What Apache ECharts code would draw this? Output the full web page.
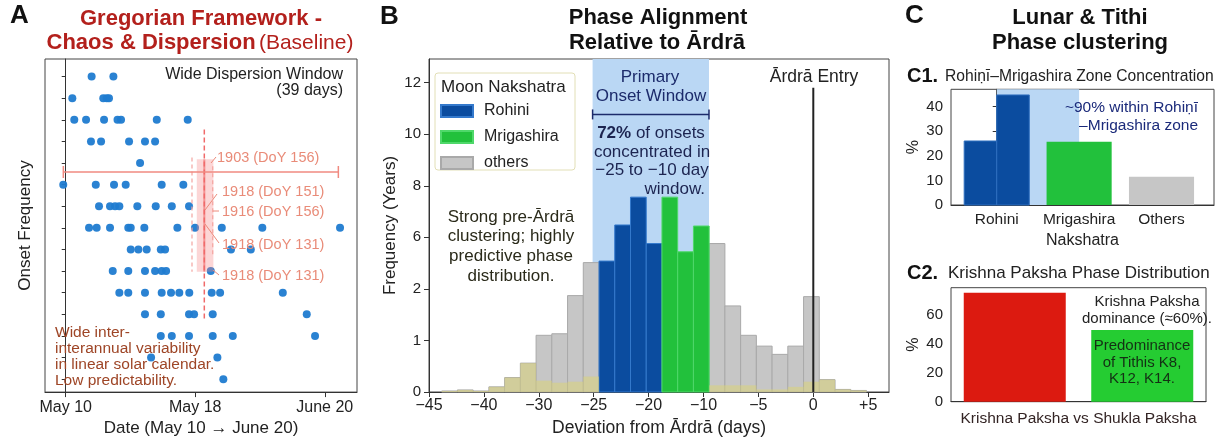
<!DOCTYPE html>
<html>
<head>
<meta charset="utf-8">
<script src="https://cdn.jsdelivr.net/npm/echarts@6/dist/echarts.min.js"></script>
<style>html,body{margin:0;padding:0;background:#fff}#c{width:1222px;height:442px}</style>
</head>
<body>
<div id="c"></div>
<script>
// ================= DATA =================
// Panel A: onset dates per row (axis positions: 0 = May 10, 1 = May 18, 2 = June 20)
const aXTickLabels = ['May 10', 'May 18', 'June 20'];
const aRows = [
  [0.20, 0.368],
  [0.051, 0.29, 0.317, 0.334],
  [0.066, 0.157, 0.296, 0.40, 0.427, 0.703, 0.942],
  [0.195, 0.273, 0.489, 0.612, 0.69],
  [0.574],
  [-0.019, 0.232, 0.373, 0.463, 0.741, 0.908],
  [0.257, 0.342, 0.381, 0.414, 0.553, 0.695, 0.819, 0.952],
  [0.18, 0.239, 0.342, 0.483, 0.502, 0.607, 0.862, 0.998, 1.205, 1.518, 2.118],
  [0.502, 0.561, 0.625, 0.734, 0.767, 1.276, 1.429],
  [0.363, 0.483, 0.612, 0.69, 0.741, 0.775, 1.12],
  [0.414, 0.483, 0.612, 0.741, 0.813, 0.877, 0.954, 1.127, 1.192, 1.676],
  [0.612, 0.734, 0.952, 0.991, 1.135, 1.861],
  [0.734, 0.819, 0.952, 1.135, 1.29, 1.925],
  [0.659, 1.171],
  [1.217]
];
const aSpan = [-0.0185, 2.105];      // dispersion window (x)
const aSpanRow = 5.416;
const aCenterX = 1.07;               // dashed centre line
const aCenterRows = [3.45, 12.26];
const aBand = [1.012, 1.14];         // shaded band
const aBandRows = [4.83, 10.03];
const aBracketL = [0.975, 4.74, 10.03];
const aBracketR = [1.135, 5.15, 9.29];
const aLabels = ['1903 (DoY 156)', '1918 (DoY 151)', '1916 (DoY 156)', '1918 (DoY 131)', '1918 (DoY 131)'];

// Panel B: histogram (axis positions; tick labels as printed)
const bXTickLabels = ['\u221245', '\u221240', '\u221230', '\u221225', '\u221220', '\u221210', '\u22125', '0', '+5'];
const bYTickLabels = ['0', '1', '2', '6', '8', '10', '12'];
const bBinStart = 0.231;
const bBinWidth = 0.2866;
const bOthers =     [0.02, 0.04, 0.02, 0.1, 0.28, 0.56, 1.1, 1.13, 1.87, 2.51, null, null, null, null, null, null, null, 2.88, 1.67, 1.10, 0.89, 0.73, 0.89, 1.85, 0.24, 0.05, 0.03];
const bRohini =     [null, null, null, null, null, null, null, null, null, null, 2.54, 3.24, 3.78, 2.88, null, null, null, null, null, null, null, null, null, null, null, null, null];
const bMrigashira = [null, null, null, null, null, null, null, null, null, null, null, null, null, null, 3.78, 2.72, 3.22, null, null, null, null, null, null, null, null, null, null];
const bTint =       [0.02, 0.04, 0.02, 0.1, 0.28, 0.56, 0.22, 0.18, 0.2, 0.3, null, null, null, null, null, null, null, 0.13, 0.13, 0.13, 0.05, 0.05, 0.1, 0.2, 0.24, 0.05, 0.03];
const bWindow = [2.98, 5.10];
const bBracketY = 5.385;
const bArdraX = 7;
const bArdraTop = 5.9;

// Panel C1
const c1Categories = ['Rohini', 'Mrigashira', 'Others'];
const c1Rohini = [26.0, 44.7];
const c1Mrigashira = [25.7];
const c1Others = [11.5];
const c1Zone = [0, 1];

// Panel C2
const c2Categories = ['Krishna Paksha', 'Shukla Paksha'];
const c2Values = [74.9, 49.3];

// ================= RENDER =================
const FF = '"Liberation Sans", Arial, Helvetica, sans-serif';
const fnt = (s, w) => (w || 'normal') + ' ' + s + 'px ' + FF;
const BLUE = '#0b4c9f', GREEN = '#22c13c', GRAY = '#c6c6c6', SHADE = '#bad7f4';

function tx(x, y, text, size, color, align, weight) {
  return {type: 'text', z: 100, style: {x: x, y: y, text: text, font: fnt(size, weight), fill: color || '#222',
    textAlign: align || 'left', textVerticalAlign: 'middle'}};
}
function rtx(x, y, text, rich, align) {
  return {type: 'text', z: 100, style: {x: x, y: y, text: text, rich: rich, textAlign: align || 'left', textVerticalAlign: 'middle'}};
}
function rectRender(params, api) {
  const p0 = api.coord([api.value(0), api.value(2)]);
  const p1 = api.coord([api.value(1), api.value(3)]);
  return {type: 'rect', shape: {x: Math.min(p0[0], p1[0]), y: Math.min(p0[1], p1[1]),
    width: Math.abs(p1[0] - p0[0]), height: Math.abs(p1[1] - p0[1])}, style: api.style()};
}
function lineRender(style) {
  return function (params, api) {
    const p0 = api.coord([api.value(0), api.value(1)]);
    const p1 = api.coord([api.value(2), api.value(3)]);
    return {type: 'line', shape: {x1: p0[0], y1: p0[1], x2: p1[0], y2: p1[1]}, style: style};
  };
}
function capLineRender(style, cap) {
  return function (params, api) {
    const p0 = api.coord([api.value(0), api.value(2)]);
    const p1 = api.coord([api.value(1), api.value(2)]);
    return {type: 'group', children: [
      {type: 'line', shape: {x1: p0[0], y1: p0[1], x2: p1[0], y2: p1[1]}, style: style},
      {type: 'line', shape: {x1: p0[0], y1: p0[1] - cap, x2: p0[0], y2: p0[1] + cap}, style: style},
      {type: 'line', shape: {x1: p1[0], y1: p1[1] - cap, x2: p1[0], y2: p1[1] + cap}, style: style}
    ]};
  };
}
function binRects(vals) {
  const out = [];
  vals.forEach((v, i) => { if (v != null) out.push([bBinStart + i * bBinWidth, bBinStart + (i + 1) * bBinWidth, 0, v]); });
  return out;
}
function groupRects(cat, vals) {
  const span = 0.79, w = span / vals.length;
  return vals.map((v, i) => [cat - span / 2 + i * w, cat - span / 2 + (i + 1) * w, 0, v]);
}
const aPoints = [];
aRows.forEach((xs, i) => xs.forEach(x => aPoints.push([x, i + 1])));

const axisCol = '#333';
const tickFont = {fontFamily: FF, color: '#222'};

const option = {
  animation: false,
  backgroundColor: '#fff',
  grid: [
    {left: 45, top: 59, width: 312, height: 335, show: true, borderColor: '#444', borderWidth: 1},
    {left: 429, top: 59, width: 460, height: 335.5, show: true, borderColor: '#444', borderWidth: 1},
    {left: 951, top: 89.3, width: 263, height: 115.7, show: true, borderColor: '#444', borderWidth: 1},
    {left: 951, top: 287.7, width: 255, height: 114, show: true, borderColor: '#444', borderWidth: 1}
  ],
  xAxis: [
    {type: 'value', gridIndex: 0, min: -0.16, max: 2.249, splitLine: {show: false},
      axisLine: {lineStyle: {color: axisCol}},
      axisTick: {customValues: [0, 1, 2], length: 5, lineStyle: {color: axisCol}},
      axisLabel: {customValues: [0, 1, 2], formatter: v => aXTickLabels[Math.round(v)], fontSize: 16, margin: 7, ...tickFont},
      name: 'Date (May 10 \u2192 June 20)', nameLocation: 'middle', nameGap: 27,
      nameTextStyle: {fontSize: 17, color: '#222', fontFamily: FF}},
    {type: 'value', gridIndex: 1, min: 0, max: 8.379, interval: 1, splitLine: {show: false},
      axisLine: {lineStyle: {color: axisCol}},
      axisTick: {length: 5, lineStyle: {color: axisCol}},
      axisLabel: {formatter: v => bXTickLabels[Math.round(v)] || '', showMaxLabel: false, fontSize: 16, margin: 6, ...tickFont},
      name: 'Deviation from \u0100rdr\u0101 (days)', nameLocation: 'middle', nameGap: 27,
      nameTextStyle: {fontSize: 17.5, color: '#222', fontFamily: FF}},
    {type: 'value', gridIndex: 2, min: -0.555, max: 2.637, splitLine: {show: false},
      axisLine: {lineStyle: {color: axisCol}},
      axisTick: {show: false},
      axisLabel: {customValues: [0, 1, 2], formatter: v => c1Categories[Math.round(v)], fontSize: 15.5, margin: 7, ...tickFont},
      name: 'Nakshatra', nameLocation: 'middle', nameGap: 28,
      nameTextStyle: {fontSize: 16, color: '#222', fontFamily: FF}},
    {type: 'category', gridIndex: 3, data: c2Categories,
      axisLine: {lineStyle: {color: axisCol}},
      axisTick: {alignWithLabel: true, length: 4, lineStyle: {color: axisCol}},
      axisLabel: {show: false},
      name: 'Krishna Paksha vs Shukla Paksha', nameLocation: 'middle', nameGap: 9,
      nameTextStyle: {fontSize: 15.5, color: '#332424', fontFamily: FF}}
  ],
  yAxis: [
    {type: 'value', gridIndex: 0, inverse: true, min: 0.186, max: 15.6, splitLine: {show: false},
      axisLine: {lineStyle: {color: axisCol}},
      axisTick: {customValues: [1, 2, 3, 4, 5, 6, 7, 8, 9, 10, 11, 12, 13, 14, 15], length: 4, lineStyle: {color: axisCol}},
      axisLabel: {show: false},
      name: 'Onset Frequency', nameLocation: 'middle', nameGap: 11,
      nameTextStyle: {fontSize: 17, color: '#222', fontFamily: FF}},
    {type: 'value', gridIndex: 1, min: 0, max: 6.46, interval: 1, splitLine: {show: false},
      axisLine: {lineStyle: {color: axisCol}},
      axisTick: {length: 5, lineStyle: {color: axisCol}},
      axisLabel: {formatter: v => bYTickLabels[Math.round(v)] || '', showMaxLabel: false, fontSize: 15, margin: 8, ...tickFont},
      name: 'Frequency (Years)', nameLocation: 'middle', nameGap: 30,
      nameTextStyle: {fontSize: 17, color: '#222', fontFamily: FF}},
    {type: 'value', gridIndex: 2, min: 0, max: 47, interval: 10, splitLine: {show: false},
      axisLine: {lineStyle: {color: axisCol}},
      axisTick: {length: 4, lineStyle: {color: axisCol}},
      axisLabel: {showMaxLabel: false, fontSize: 15, margin: 8, ...tickFont},
      name: '%', nameLocation: 'middle', nameGap: 29,
      nameTextStyle: {fontSize: 16, color: '#222', fontFamily: FF}},
    {type: 'value', gridIndex: 3, min: 0, max: 78.35, interval: 20, splitLine: {show: false},
      axisLine: {lineStyle: {color: axisCol}},
      axisTick: {length: 4, lineStyle: {color: axisCol}},
      axisLabel: {showMaxLabel: false, fontSize: 15, margin: 8, ...tickFont},
      name: '%', nameLocation: 'middle', nameGap: 29,
      nameTextStyle: {fontSize: 16, color: '#222', fontFamily: FF}}
  ],
  legend: {
    left: 440, top: 103, orient: 'vertical', itemWidth: 32, itemHeight: 12, itemGap: 10, icon: 'rect',
    padding: 0, z: 20, selectedMode: false, data: ['Rohini', 'Mrigashira', 'others'],
    textStyle: {fontSize: 16, color: '#222', fontFamily: FF, padding: [0, 0, 0, 6], lineHeight: 12}
  },
  series: [
    // ---- Panel A ----
    {type: 'scatter', xAxisIndex: 0, yAxisIndex: 0, data: aPoints, symbolSize: 8, z: 2,
      itemStyle: {color: '#1f7bd0', opacity: 0.95}},
    {type: 'custom', xAxisIndex: 0, yAxisIndex: 0, z: 3, renderItem: rectRender, encode: {x: [0, 1], y: [2, 3]},
      itemStyle: {color: 'rgba(246,130,130,0.33)'}, data: [[aBand[0], aBand[1], aBandRows[0], aBandRows[1]]]},
    {type: 'custom', xAxisIndex: 0, yAxisIndex: 0, z: 4, encode: {x: [0, 2], y: [1, 3]},
      renderItem: lineRender({stroke: 'rgba(238,90,90,0.55)', lineWidth: 2}),
      data: [[aCenterX, aBandRows[0], aCenterX, aBandRows[1]]]},
    {type: 'custom', xAxisIndex: 0, yAxisIndex: 0, z: 4, encode: {x: [0, 2], y: [1, 3]},
      renderItem: lineRender({stroke: '#f06a6a', lineWidth: 1.5, lineDash: [5, 3]}),
      data: [[aCenterX, aCenterRows[0], aCenterX, aCenterRows[1]]]},
    {type: 'custom', xAxisIndex: 0, yAxisIndex: 0, z: 4, encode: {x: [0, 2], y: [1, 3]},
      renderItem: lineRender({stroke: '#f4a4a0', lineWidth: 1.2, lineDash: [4, 3]}),
      data: [[aBracketL[0], aBracketL[1], aBracketL[0], aBracketL[2]], [aBracketR[0], aBracketR[1], aBracketR[0], aBracketR[2]]]},
    {type: 'custom', xAxisIndex: 0, yAxisIndex: 0, z: 4, encode: {x: [0, 1], y: 2},
      renderItem: capLineRender({stroke: '#f08a80', lineWidth: 1.5}, 6),
      data: [[aSpan[0], aSpan[1], aSpanRow]]},
    // ---- Panel B ----
    {type: 'custom', xAxisIndex: 1, yAxisIndex: 1, z: 1, renderItem: rectRender, encode: {x: [0, 1], y: [2, 3]},
      itemStyle: {color: SHADE}, data: [[bWindow[0], bWindow[1], 0, 6.46]]},
    {name: 'others', type: 'custom', xAxisIndex: 1, yAxisIndex: 1, z: 2, renderItem: rectRender, encode: {x: [0, 1], y: [2, 3]},
      itemStyle: {color: GRAY, borderColor: '#a9a9a9', borderWidth: 1}, data: binRects(bOthers)},
    {name: 'Rohini', type: 'custom', xAxisIndex: 1, yAxisIndex: 1, z: 2, renderItem: rectRender, encode: {x: [0, 1], y: [2, 3]},
      itemStyle: {color: BLUE, borderColor: '#3479cc', borderWidth: 1}, data: binRects(bRohini)},
    {name: 'Mrigashira', type: 'custom', xAxisIndex: 1, yAxisIndex: 1, z: 2, renderItem: rectRender, encode: {x: [0, 1], y: [2, 3]},
      itemStyle: {color: GREEN, borderColor: '#4fd86a', borderWidth: 1}, data: binRects(bMrigashira)},
    {type: 'custom', xAxisIndex: 1, yAxisIndex: 1, z: 3, renderItem: rectRender, encode: {x: [0, 1], y: [2, 3]},
      itemStyle: {color: 'rgba(218,212,120,0.55)'}, data: binRects(bTint)},
    {type: 'custom', xAxisIndex: 1, yAxisIndex: 1, z: 4, encode: {x: [0, 1], y: 2},
      renderItem: capLineRender({stroke: '#1c2b6b', lineWidth: 1.5}, 5),
      data: [[bWindow[0], bWindow[1], bBracketY]]},
    {type: 'custom', xAxisIndex: 1, yAxisIndex: 1, z: 5, encode: {x: [0, 2], y: [1, 3]},
      renderItem: lineRender({stroke: '#222', lineWidth: 2}),
      data: [[bArdraX, 0, bArdraX, bArdraTop]]},
    // ---- Panel C1 ----
    {type: 'custom', xAxisIndex: 2, yAxisIndex: 2, z: 1, renderItem: rectRender, encode: {x: [0, 1], y: [2, 3]},
      itemStyle: {color: SHADE}, data: [[c1Zone[0], c1Zone[1], 0, 47]]},
    {type: 'custom', xAxisIndex: 2, yAxisIndex: 2, z: 2, renderItem: rectRender, encode: {x: [0, 1], y: [2, 3]},
      itemStyle: {color: BLUE, borderColor: '#2f6fc0', borderWidth: 1}, data: groupRects(0, c1Rohini)},
    {type: 'custom', xAxisIndex: 2, yAxisIndex: 2, z: 2, renderItem: rectRender, encode: {x: [0, 1], y: [2, 3]},
      itemStyle: {color: GREEN}, data: groupRects(1, c1Mrigashira)},
    {type: 'custom', xAxisIndex: 2, yAxisIndex: 2, z: 2, renderItem: rectRender, encode: {x: [0, 1], y: [2, 3]},
      itemStyle: {color: GRAY}, data: groupRects(2, c1Others)},
    // ---- Panel C2 ----
    {type: 'bar', xAxisIndex: 3, yAxisIndex: 3, barWidth: 102, z: 2,
      data: [{value: c2Values[0], itemStyle: {color: '#dc1a10'}}, {value: c2Values[1], itemStyle: {color: '#25cc32'}}]}
  ],
  graphic: {elements: [
    // panel letters & titles
    tx(10, 16, 'A', 26, '#111', 'left', 'bold'),
    tx(201, 19, 'Gregorian Framework -', 22, '#b3201c', 'center', 'bold'),
    rtx(200, 43, '{b|Chaos & Dispersion} {n|(Baseline)}', {
      b: {fontSize: 22, fontWeight: 'bold', fontFamily: FF, fill: '#b3201c'},
      n: {fontSize: 21, fontFamily: FF, fill: '#b3201c'}}, 'center'),
    tx(380, 17, 'B', 26, '#111', 'left', 'bold'),
    tx(658, 18, 'Phase Alignment', 22, '#111', 'center', 'bold'),
    tx(657, 43, 'Relative to \u0100rdr\u0101', 22, '#111', 'center', 'bold'),
    tx(905, 16, 'C', 26, '#111', 'left', 'bold'),
    tx(1080, 18, 'Lunar & Tithi', 22, '#111', 'center', 'bold'),
    tx(1080, 43, 'Phase clustering', 22, '#111', 'center', 'bold'),
    // panel A annotations
    tx(343, 75, 'Wide Dispersion Window', 16, '#222', 'right'),
    tx(343, 91, '(39 days)', 16, '#222', 'right'),
    tx(217, 158, aLabels[0], 14.5, '#e98b78'),
    tx(222, 192, aLabels[1], 14.5, '#e98b78'),
    tx(222, 212, aLabels[2], 14.5, '#e98b78'),
    tx(222, 245, aLabels[3], 14.5, '#e98b78'),
    tx(222, 276, aLabels[4], 14.5, '#e98b78'),
    {type: 'line', z: 100, shape: {x1: 211, y1: 163, x2: 216, y2: 157}, style: {stroke: '#ec8a7a', lineWidth: 1}},
    {type: 'line', z: 100, shape: {x1: 205, y1: 210, x2: 217, y2: 194}, style: {stroke: '#ec8a7a', lineWidth: 1}},
    {type: 'line', z: 100, shape: {x1: 213, y1: 211, x2: 219, y2: 211}, style: {stroke: '#ec8a7a', lineWidth: 1}},
    {type: 'line', z: 100, shape: {x1: 205, y1: 224, x2: 219, y2: 243}, style: {stroke: '#ec8a7a', lineWidth: 1}},
    {type: 'line', z: 100, shape: {x1: 213, y1: 270, x2: 219, y2: 275}, style: {stroke: '#ec8a7a', lineWidth: 1}},
    tx(55, 333, 'Wide inter-', 15.5, '#9e4526'),
    tx(55, 349, 'interannual variability', 15.5, '#9e4526'),
    tx(55, 365, 'in linear solar calendar.', 15.5, '#9e4526'),
    tx(55, 381, 'Low predictability.', 15.5, '#9e4526'),
    // panel B annotations
    {type: 'rect', z: 15, shape: {x: 435, y: 73, width: 140, height: 97, r: 3},
      style: {fill: 'rgba(255,255,255,0.92)', stroke: '#e2dfb6', lineWidth: 1}},
    tx(441, 87, 'Moon Nakshatra', 17, '#222'),
    tx(650, 77, 'Primary', 17, '#1c2b6b', 'center'),
    tx(651, 96, 'Onset Window', 17, '#1c2b6b', 'center'),
    rtx(651, 133, '{b|72%}{n| of onsets}', {
      b: {fontSize: 17, fontWeight: 'bold', fontFamily: FF, fill: '#1c2450'},
      n: {fontSize: 17, fontFamily: FF, fill: '#1c2450'}}, 'center'),
    tx(652, 152, 'concentrated in', 17, '#1c2450', 'center'),
    tx(652, 170, '\u221225 to \u221210 day', 17, '#1c2450', 'center'),
    tx(705, 189, 'window.', 17, '#1c2450', 'right'),
    tx(511, 217, 'Strong pre-\u0100rdr\u0101', 17, '#2a2a1a', 'center'),
    tx(511, 236, 'clustering; highly', 17, '#2a2a1a', 'center'),
    tx(511, 256, 'predictive phase', 17, '#2a2a1a', 'center'),
    tx(511, 276, 'distribution.', 17, '#2a2a1a', 'center'),
    tx(814, 77, '\u0100rdr\u0101 Entry', 17.5, '#222', 'center'),
    // panel C annotations
    tx(907, 76, 'C1.', 20, '#111', 'left', 'bold'),
    {type: 'text', z: 100, x: 945, y: 76, scaleX: 0.92,
      style: {x: 0, y: 0, text: 'Rohi\u1e47\u012b\u2013Mrigashira Zone Concentration', font: fnt(17), fill: '#222',
        textAlign: 'left', textVerticalAlign: 'middle'}},
    tx(1198, 108, '~90% within Rohi\u1e47\u012b', 15.5, '#1b2a7a', 'right'),
    tx(1198, 126, '\u2013Mrigashira zone', 15.5, '#1b2a7a', 'right'),
    tx(907, 273, 'C2.', 20, '#111', 'left', 'bold'),
    tx(948, 273, 'Krishna Paksha Phase Distribution', 17, '#222'),
    tx(1147, 302, 'Krishna Paksha', 15, '#222', 'center'),
    tx(1147, 319, 'dominance (\u224860%).', 15, '#222', 'center'),
    tx(1142, 346, 'Predominance', 15, '#143014', 'center'),
    tx(1142, 363, 'of Tithis K8,', 15, '#143014', 'center'),
    tx(1142, 379, 'K12, K14.', 15, '#143014', 'center')
  ]}
};
const chart = echarts.init(document.getElementById('c'), null, {renderer: 'canvas'});
chart.setOption(option);
</script>
</body>
</html>
